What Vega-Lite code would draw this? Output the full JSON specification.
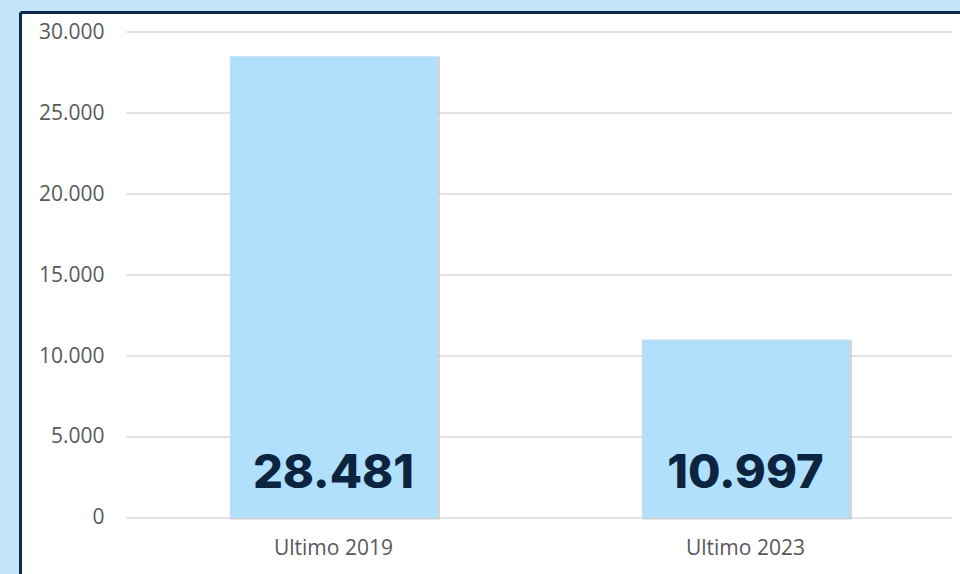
{
  "$schema": "https://vega.github.io/schema/vega-lite/v6.json",
  "width": 940,
  "height": 562,
  "autosize": {"type": "none"},
  "padding": {"left": 20, "top": 12, "right": 0, "bottom": 0},
  "background": "#c4e5f9",
  "config": {
    "view": {"fill": "white", "stroke": null},
    "locale": {"number": {"decimal": ",", "thousands": ".", "grouping": [3], "currency": ["€", ""]}},
    "font": "Open Sans"
  },
  "datasets": {
    "bars": [
      {"periodo": "Ultimo 2019", "valore": 28481},
      {"periodo": "Ultimo 2023", "valore": 10997}
    ],
    "grid": [
      {"valore": 0}, {"valore": 5000}, {"valore": 10000}, {"valore": 15000},
      {"valore": 20000}, {"valore": 25000}, {"valore": 30000}
    ]
  },
  "layer": [
    {
      "data": {"name": "grid"},
      "mark": {"type": "rule", "color": "#d9d9d9", "strokeWidth": 1.5},
      "encoding": {
        "y": {
          "field": "valore", "type": "quantitative",
          "scale": {"domain": [-3457, 31235], "nice": false, "zero": false},
          "axis": {
            "orient": "left", "values": [0, 5000, 10000, 15000, 20000, 25000, 30000],
            "format": ",d", "domain": true, "domainColor": "#0e2a47", "domainWidth": 3,
            "ticks": false, "grid": false, "labelPadding": -84, "labelAlign": "right",
            "labelFontSize": 21, "labelColor": "#595959", "title": null
          }
        },
        "x": {
          "datum": "Ultimo 2019", "type": "nominal", "bandPosition": -0.5,
          "scale": {"type": "band", "domain": ["Ultimo 2019", "Ultimo 2023"], "paddingInner": 0.4976, "paddingOuter": 0.3896, "align": 0.654},
          "axis": {"orient": "top", "domain": true, "domainColor": "#0e2a47", "domainWidth": 3, "labels": false, "ticks": false, "title": null, "grid": false}
        },
        "x2": {"datum": "Ultimo 2023", "bandPosition": 1.5}
      }
    },
    {
      "data": {"name": "bars"},
      "mark": {"type": "bar", "color": "#b8b8b8", "stroke": "#c4c4c4", "strokeWidth": 3, "opacity": 0.7, "xOffset": 1.5, "yOffset": 1.5},
      "encoding": {
        "x": {
          "field": "periodo", "type": "nominal",
          "axis": {"orient": "bottom", "offset": -56, "domain": false, "ticks": false, "labelPadding": 19, "labelFontSize": 21, "labelColor": "#595959", "labelAngle": 0, "title": null, "grid": false}
        },
        "y": {"field": "valore", "type": "quantitative", "axis": {"title": null}},
        "y2": {"datum": 0}
      }
    },
    {
      "data": {"name": "bars"},
      "mark": {"type": "bar", "color": "#b0e0fc"},
      "encoding": {
        "x": {"field": "periodo", "type": "nominal", "axis": null},
        "y": {"field": "valore", "type": "quantitative", "axis": {"title": null}},
        "y2": {"datum": 0}
      }
    },
    {
      "data": {"name": "bars"},
      "mark": {"type": "text", "font": "Inter", "fontWeight": 800, "fontSize": 47, "color": "#0b2440", "baseline": "alphabetic", "align": "center", "dy": -30},
      "encoding": {
        "x": {"field": "periodo", "type": "nominal", "axis": null},
        "y": {"datum": 0, "type": "quantitative", "axis": {"title": null}},
        "text": {"field": "valore", "type": "quantitative", "format": ",d"}
      }
    }
  ],
  "resolve": {"axis": {"x": "independent"}}
}
